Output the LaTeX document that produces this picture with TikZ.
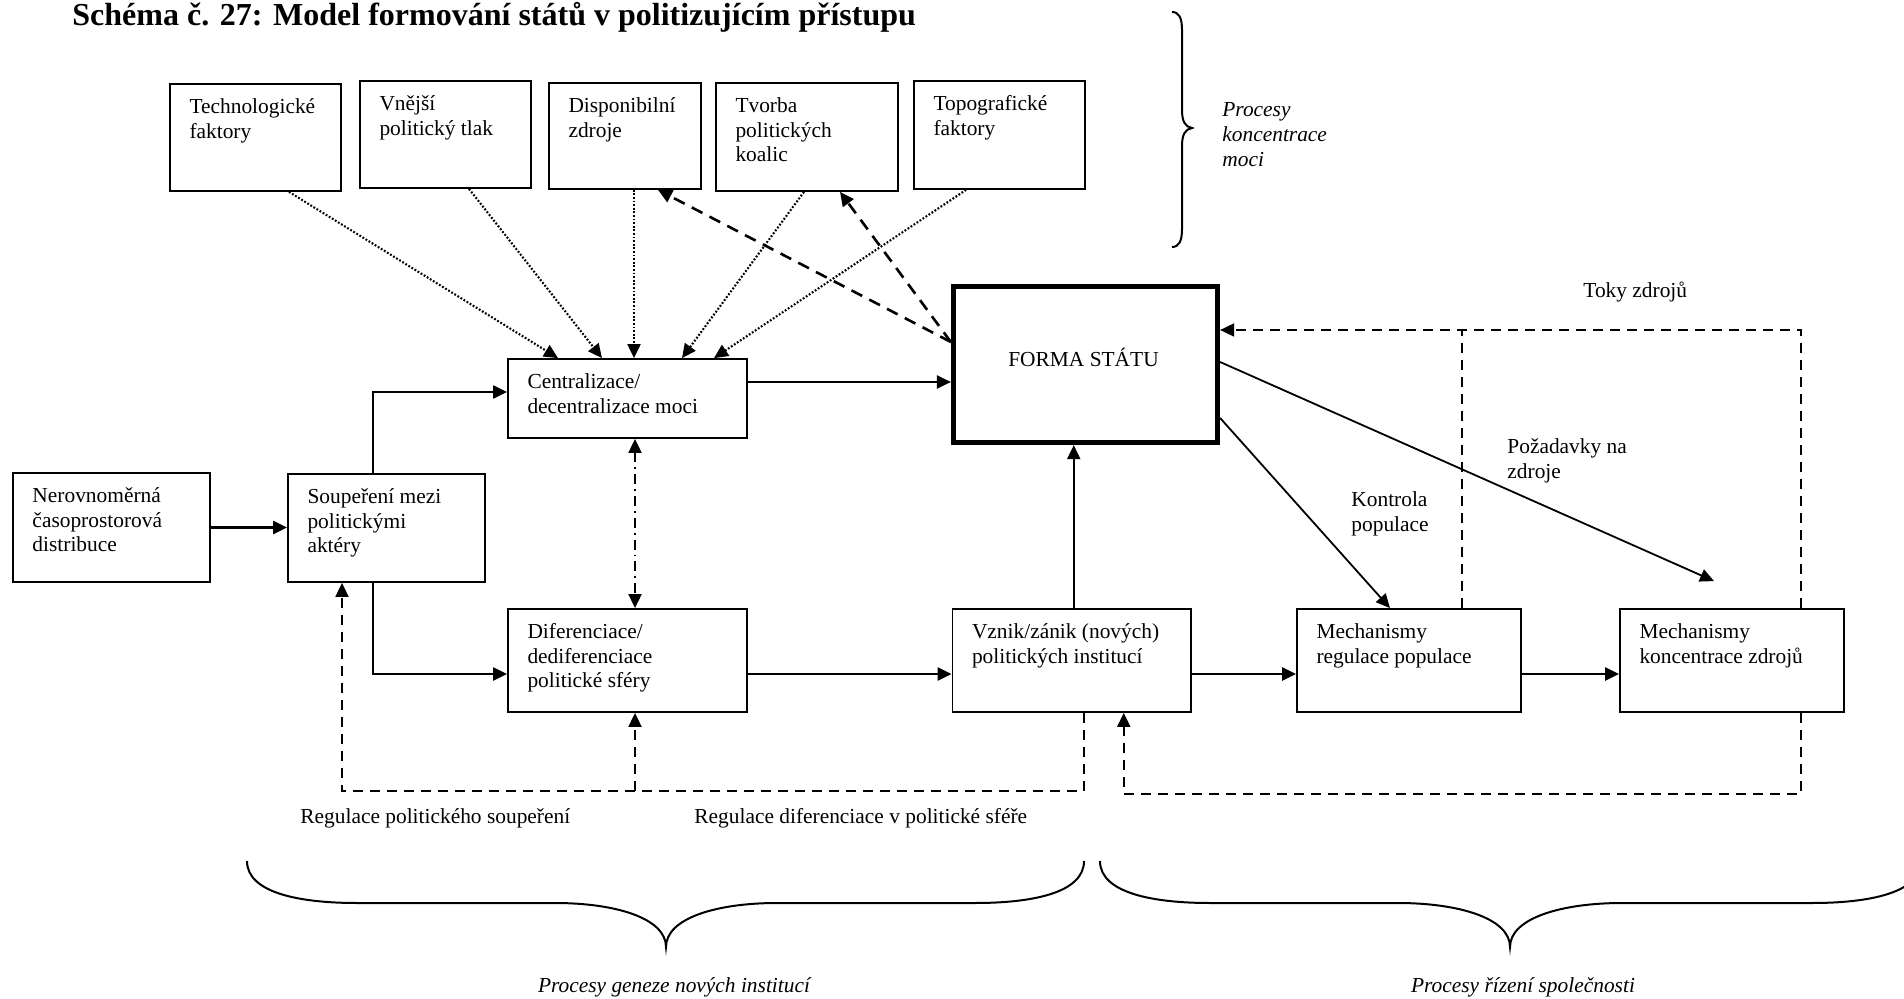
\documentclass[tikz,border=0pt]{standalone}
\usepackage{fontspec}
\setmainfont{Liberation Serif}
\usetikzlibrary{arrows.meta,calc}
\newcommand\bx[5]{\node[box,minimum width={((#4)-(#2))*0.5pt},minimum height={((#5)-(#3))*0.5pt}] (#1) at ({((#2)+(#4))/2},{((#3)+(#5))/2}) {};}
\newcommand\bt[2]{\node[txt] (#1T) at ($(#1.north west)+(20,30.5)$) {\parbox[t]{9cm}{\raggedright #2}};}
\begin{document}
\begin{tikzpicture}[x=0.5pt,y=-0.5pt,
  box/.style={draw,line width=0.9pt,inner sep=0pt},
  txt/.style={anchor=base west,inner sep=0pt,font=\fontsize{10.7pt}{12.3pt}\selectfont},
  Tri/.tip={Triangle[length=7pt,width=6.5pt]},
  arr/.style={-Tri,line width=1.1pt},
  thinarr/.style={-Tri,line width=0.9pt},
  dotl/.style={-Tri,line width=1.05pt,dash pattern=on 0.9pt off 0.9pt},
  dshthick/.style={-Tri,line width=1.3pt,dash pattern=on 6pt off 4pt},
  dsh/.style={line width=0.9pt,dash pattern=on 5pt off 3.5pt},
  dashdot/.style={Tri-Tri,line width=0.95pt,dash pattern=on 5pt off 2.5pt on 0.9pt off 2.5pt},
  brace/.style={line width=1pt}]
\useasboundingbox (0,0) rectangle (1904,999);

% title
\node[anchor=base west,inner sep=0pt,font=\fontsize{16pt}{19pt}\selectfont\bfseries] (title) at (72,26) {Schéma č. 27: Model formování států v politizujícím přístupu};

% boxes
\bx{tech}{170}{84}{341}{191}
\bx{vnej}{360}{81}{531}{188}
\bx{disp}{549}{83}{701}{189}
\bx{tvor}{716}{83}{898}{191}
\bx{topo}{914}{81}{1085}{189}
\bx{cent}{508}{359}{747}{438}
\node[draw,line width=2.6pt,inner sep=0pt,minimum width=132pt,minimum height=78pt] (forma) at (1085.5,364.5) {};
\bx{nerov}{13}{473}{210}{582}
\bx{soup}{288}{474}{485}{582}
\bx{dif}{508}{609}{747}{712}
\bx{vznik}{952.5}{609}{1191}{712}
\bx{mr}{1297}{609}{1521}{712}
\bx{mk}{1620}{609}{1844}{712}

% box texts
\bt{tech}{Technologické\\faktory}
\bt{vnej}{Vnější\\politický tlak}
\bt{disp}{Disponibilní\\zdroje}
\bt{tvor}{Tvorba\\politických\\koalic}
\bt{topo}{Topografické\\faktory}
\bt{cent}{Centralizace/\\decentralizace moci}
\bt{nerov}{Nerovnoměrná\\časoprostorová\\distribuce}
\bt{soup}{Soupeření mezi\\politickými\\aktéry}
\bt{dif}{Diferenciace/\\dediferenciace\\politické sféry}
\bt{vznik}{Vznik/zánik (nových)\\politických institucí}
\bt{mr}{Mechanismy\\regulace populace}
\bt{mk}{Mechanismy\\koncentrace zdrojů}
\node[txt,anchor=base] (formaT) at ($(forma.center)+(-2,2.5)$) {FORMA STÁTU};

% labels
\node[txt] (kmoci) at (1222,117) {\parbox[t]{5cm}{\itshape Procesy\\koncentrace\\moci}};
\node[txt] (toky) at (1583,298) {Toky zdrojů};
\node[txt] (pozad) at (1507,454) {\parbox[t]{5cm}{Požadavky na\\zdroje}};
\node[txt] (kontr) at (1351,507) {\parbox[t]{5cm}{Kontrola\\populace}};
\node[txt] (regs) at (300,823) {Regulace politického soupeření};
\node[txt] (regd) at (694,823) {Regulace diferenciace v politické sféře};
\node[txt,anchor=base,font=\fontsize{10.7pt}{12.3pt}\selectfont\itshape] (geneze) at (674,992) {Procesy geneze nových institucí};
\node[txt,anchor=base,font=\fontsize{10.7pt}{12.3pt}\selectfont\itshape] (rizeni) at (1523,992) {Procesy řízení společnosti};

% solid flow arrows
\draw[arr] (nerov.east) -- (nerov.east -| soup.west);
\coordinate (s1) at ($(soup.north)+(-13.5,0)$);
\coordinate (s2) at ($(soup.south)+(-13.5,0)$);
\draw[arr] (s1) |- ($(cent.west)+(0,-6.5)$);
\draw[arr] (s2) |- ($(dif.west)+(0,13.5)$);
\coordinate (c1) at ($(cent.east)+(0,-16.5)$);
\draw[arr] (c1) -- (c1 -| forma.west);
\coordinate (d1) at ($(dif.east)+(0,13.5)$);
\draw[arr] (d1) -- (d1 -| vznik.west);
\coordinate (v1) at ($(vznik.east)+(0,13.5)$);
\draw[arr] (v1) -- (v1 -| mr.west);
\coordinate (m1) at ($(mr.east)+(0,13.5)$);
\draw[arr] (m1) -- (m1 -| mk.west);
\coordinate (v0) at ($(vznik.north)+(2,0)$);
\draw[thinarr] (v0) -- (v0 |- forma.south);
\draw[thinarr] ($(forma.east)+(0,53.5)$) -- ($(mr.north)+(-19,0)$);
\coordinate (pz) at ($(mk.north)+(-18,-27)$);
\draw[thinarr] ($(forma.east)+(0,-2.5)$) -- (pz);

% dotted arrows to centralizace
\draw[dotl] ($(tech.south)+(33.5,0)$) -- ($(cent.north)+(-69.5,0)$);
\draw[dotl] ($(vnej.south)+(23.5,0)$) -- ($(cent.north)+(-25.5,0)$);
\draw[dotl] ($(disp.south)+(9,0)$) -- ($(cent.north)+(6.5,0)$);
\draw[dotl] ($(tvor.south)+(-3,0)$) -- ($(cent.north)+(54.5,0)$);
\draw[dotl] ($(topo.south)+(-33.5,0)$) -- ($(cent.north)+(86.5,0)$);

% dashed arrows from forma
\coordinate (f1) at ($(forma.west)+(0,-22.5)$);
\draw[dshthick] (f1) -- ($(disp.south)+(33,0)$);
\draw[dshthick] (f1) -- ($(tvor.south)+(33,0)$);

% dash-dot double arrow
\draw[dashdot] ($(cent.south)+(7.5,0)$) -- ($(dif.north)+(7.5,0)$);

% toky zdroju
\coordinate (tk) at ($(forma.east)+(0,-34.5)$);
\coordinate (k0) at ($(mk.north)+(69,0)$);
\coordinate (r0) at ($(mr.north)+(53,0)$);
\draw[dsh,-Tri] (k0) |- (tk);
\draw[dsh] (r0) -- (r0 |- tk);

% bottom regulation loops
\coordinate (vb) at ($(vznik.south)+(12,0)$);
\coordinate (b1) at ($(vb)+(0,78)$);
\coordinate (sb) at ($(soup.south)+(-44.5,0)$);
\coordinate (db) at ($(dif.south)+(7.5,0)$);
\draw[dsh,-Tri] (vb) -- (b1) -| (sb);
\draw[dsh,-Tri] (db |- b1) -- (db);
\coordinate (kb) at ($(mk.south)+(69,0)$);
\coordinate (vb2) at ($(vznik.south)+(52,0)$);
\draw[dsh,-Tri] (kb) -- ($(kb)+(0,81)$) -| (vb2);

% braces
\draw[brace] (1172,12) .. controls (1179,12) and (1182,18) .. (1182,30) -- (1182,110) .. controls (1182,121) and (1185,127) .. (1192,128) .. controls (1185,129) and (1182,135) .. (1182,146) -- (1182,229) .. controls (1182,241) and (1179,247) .. (1172,247);
\draw[brace] (247,861) .. controls (247,893) and (300,903) .. (357,903) -- (555,903) .. controls (615,903) and (666,918) .. (666,947) .. controls (666,918) and (717,903) .. (777,903) -- (975,903) .. controls (1032,903) and (1084,893) .. (1084,861);
\draw[brace] (1100,861) .. controls (1100,893) and (1153,903) .. (1210,903) -- (1398,903) .. controls (1458,903) and (1510,918) .. (1510,947) .. controls (1510,918) and (1562,903) .. (1622,903) -- (1812,903) .. controls (1869,903) and (1921,893) .. (1921,861);
\end{tikzpicture}
\end{document}
